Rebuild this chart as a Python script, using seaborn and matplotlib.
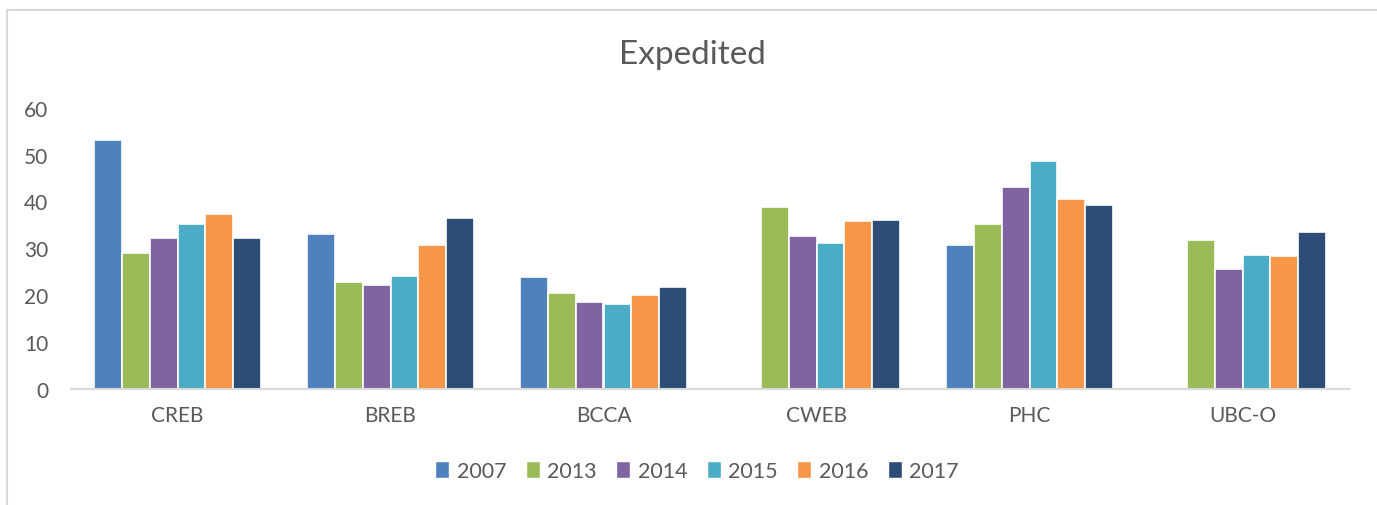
import numpy as np
import pandas as pd
import matplotlib
matplotlib.use("Agg")
import matplotlib.pyplot as plt
import seaborn as sns
from matplotlib.lines import Line2D
from matplotlib.patches import Rectangle

categories = ["CREB", "BREB", "BCCA", "CWEB", "PHC", "UBC-O"]
years = ["2007", "2013", "2014", "2015", "2016", "2017"]
v2007 = [53.2, 33.1, 23.9, np.nan, 30.6, np.nan]
v2013 = [29.0, 22.7, 20.4, 38.8, 35.2, 31.8]
v2014 = [32.1, 22.1, 18.5, 32.6, 43.0, 25.6]
v2015 = [35.2, 24.1, 18.0, 31.1, 48.6, 28.6]
v2016 = [37.3, 30.7, 20.0, 35.8, 40.6, 28.4]
v2017 = [32.2, 36.5, 21.7, 36.0, 39.3, 33.4]
colors = ["#4F81BD", "#9BBB59", "#8064A2", "#4BACC6", "#F79646", "#2C4D75"]

series = [v2007, v2013, v2014, v2015, v2016, v2017]
rows = []
for y, vals in zip(years, series):
    for c, v in zip(categories, vals):
        rows.append({"cat": c, "year": y, "value": v})
df = pd.DataFrame(rows)

sns.set_theme(style="white")
plt.rcParams["font.family"] = ["Lato", "DejaVu Sans"]

fig = plt.figure(figsize=(13.77, 5.06), dpi=100)
ax = fig.add_axes([71 / 1377, 1 - 389.7 / 506, (1349 - 71) / 1377, (389.7 - 108.7) / 506])

sns.barplot(data=df, x="cat", y="value", hue="year", order=categories,
            hue_order=years, palette=colors, width=0.78, ax=ax,
            edgecolor="white", linewidth=1.2, saturation=1, legend=False, errorbar=None)

ax.set_ylim(0, 60)
ax.set_yticks(range(0, 61, 10))
ax.set_xlim(-0.5, len(categories) - 0.5)
ax.set_xlabel("")
ax.set_ylabel("")
for s in ["top", "right", "left"]:
    ax.spines[s].set_visible(False)
ax.spines["bottom"].set_color("#D9D9D9")
ax.spines["bottom"].set_linewidth(1.5)
ax.tick_params(axis="both", length=0, labelsize=15, labelcolor="#595959")
ax.tick_params(axis="x", pad=12)
ax.tick_params(axis="y", pad=16.5)

fig.text(692 / 1377, 1 - 55 / 506, "Expedited", ha="center", va="center",
         fontsize=24, color="#595959")

handles = [Rectangle((0, 0), 1, 1, facecolor=c) for c in colors]
fig.legend(handles, years, loc="center", bbox_to_anchor=(697 / 1377, 1 - 472 / 506),
           ncol=6, frameon=False, fontsize=15.5, handlelength=0.65, handleheight=0.8,
           handletextpad=0.35, columnspacing=0.9, labelcolor="#595959")

# chart frame (top and left edges)
fig.add_artist(Line2D([6.5 / 1377, 6.5 / 1377], [0, 1 - 10.5 / 506], transform=fig.transFigure,
                      color="#D9D9D9", linewidth=1.5))
fig.add_artist(Line2D([6.5 / 1377, 1], [1 - 10.5 / 506, 1 - 10.5 / 506], transform=fig.transFigure,
                      color="#D9D9D9", linewidth=1.5))

fig.savefig("out.png", dpi=100, facecolor="white")
